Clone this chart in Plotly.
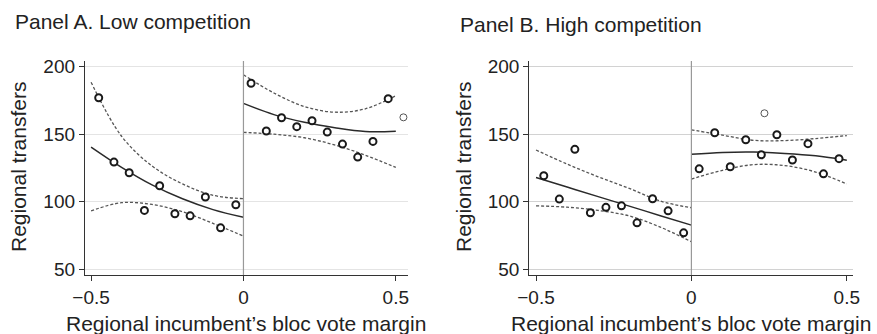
import plotly.graph_objects as go

# ---------------- data ----------------
bins_left = [-0.475, -0.425, -0.375, -0.325, -0.275, -0.225, -0.175, -0.125, -0.075, -0.025]
bins_right = [0.025, 0.075, 0.125, 0.175, 0.225, 0.275, 0.325, 0.375, 0.425, 0.475]

a_left_y = [177, 129.4, 121.5, 93.6, 111.9, 91.1, 89.6, 103.5, 80.7, 97.8]
a_right_y = [187.7, 152.4, 162.2, 155.6, 160, 151.6, 142.7, 133.1, 144.7, 176.3]
a_extra_x = [0.525]
a_extra_y = [162.5]

b_left_y = [119.3, 102, 138.8, 91.9, 95.9, 97, 84.4, 102.2, 93.3, 77]
b_right_y = [124.4, 151.1, 125.9, 145.9, 134.8, 149.6, 130.9, 143, 120.7, 131.9]
b_extra_x = [0.235]
b_extra_y = [165.5]

grid_left = [-0.5, -0.4, -0.3, -0.2, -0.1, 0.0]
grid_right = [0.0, 0.1, 0.2, 0.3, 0.4, 0.5]

a_fit_left = [140.5, 125.5, 112.5, 102.2, 94.2, 88.5]
a_hi_left = [188.5, 148.5, 126.5, 113.2, 104.8, 102.3]
a_lo_left = [93.3, 99.3, 98.0, 92.6, 84.0, 74.6]
a_fit_right = [172.8, 164.5, 158.8, 154.8, 152.0, 152.2]
a_hi_right = [194.0, 180.5, 170.5, 166.3, 168.8, 178.5]
a_lo_right = [151.4, 150.0, 147.4, 142.0, 134.5, 125.4]

b_fit_left = [118.0, 110.9, 103.8, 96.8, 89.7, 82.7]
b_hi_left = [138.3, 127.9, 118.5, 109.9, 100.5, 95.6]
b_lo_left = [97.0, 96.0, 93.6, 89.5, 81.2, 70.4]
b_fit_right = [135.1, 136.5, 136.8, 135.8, 134.0, 130.8]
b_hi_right = [153.3, 149.3, 145.5, 145.3, 146.8, 149.0]
b_lo_right = [116.8, 123.3, 127.5, 126.8, 122.0, 113.2]

x_tickvals = [-0.5, 0, 0.5]
x_ticktext = ["\u22120.5", "0", "0.5"]
y_tickvals = [50, 100, 150, 200]
y_ticktext = ["50", "100", "150", "200"]

panel_titles = ["Panel A. Low competition", "Panel B. High competition"]
x_title = "Regional incumbent\u2019s bloc vote margin"
y_title = "Regional transfers"

# ---------------- figure ----------------
W, H = 877, 334
FONT = "Liberation Sans, Arial, Helvetica, sans-serif"
fig = go.Figure()

def px_x(p):
    return p / W

def px_y(p):
    return 1 - p / H

panels = [
    dict(xa="x", ya="y", left_y=a_left_y, right_y=a_right_y, ex=a_extra_x, ey=a_extra_y,
         fl=a_fit_left, hl=a_hi_left, ll=a_lo_left, fr=a_fit_right, hr=a_hi_right, lr=a_lo_right),
    dict(xa="x2", ya="y2", left_y=b_left_y, right_y=b_right_y, ex=b_extra_x, ey=b_extra_y,
         fl=b_fit_left, hl=b_hi_left, ll=b_lo_left, fr=b_fit_right, hr=b_hi_right, lr=b_lo_right),
]

for p in panels:
    for gx, yy, dash, col in [
        (grid_left, p["hl"], "3px,2px", "#555555"),
        (grid_left, p["ll"], "3px,2px", "#555555"),
        (grid_left, p["fl"], "solid", "#2a2a2a"),
        (grid_right, p["hr"], "3px,2px", "#555555"),
        (grid_right, p["lr"], "3px,2px", "#555555"),
        (grid_right, p["fr"], "solid", "#2a2a2a"),
    ]:
        fig.add_trace(go.Scatter(
            x=gx, y=yy, mode="lines", xaxis=p["xa"], yaxis=p["ya"],
            line=dict(color=col, width=1.3 if dash != "solid" else 1.5, dash=dash, shape="spline", smoothing=1.0),
            showlegend=False, hoverinfo="skip"))
    fig.add_trace(go.Scatter(
        x=bins_left + bins_right, y=p["left_y"] + p["right_y"], mode="markers",
        xaxis=p["xa"], yaxis=p["ya"],
        marker=dict(symbol="circle", size=7, color="white", line=dict(color="#1a1a1a", width=2)),
        showlegend=False))
    fig.add_trace(go.Scatter(
        x=p["ex"], y=p["ey"], mode="markers", xaxis=p["xa"], yaxis=p["ya"],
        marker=dict(symbol="circle", size=7, color="white", line=dict(color="#555555", width=1)),
        showlegend=False))

axis_common = dict(
    showline=True, linecolor="#333333", linewidth=1.3, ticks="outside", ticklen=5,
    tickcolor="#333333", tickwidth=1.2, zeroline=False,
    tickfont=dict(family=FONT, size=19, color="#222222"), automargin=False,
)

fig.update_layout(
    width=W, height=H, margin=dict(l=0, r=0, t=0, b=0),
    paper_bgcolor="white", plot_bgcolor="white",
    xaxis=dict(domain=[px_x(85), px_x(408)], range=[-0.52, 0.54], anchor="y",
               tickvals=x_tickvals, ticktext=x_ticktext, showgrid=False, **axis_common),
    yaxis=dict(domain=[px_y(275), px_y(61)], range=[45.8, 204.2], anchor="x",
               tickvals=y_tickvals, ticktext=y_ticktext, showgrid=True, gridcolor="#e4e4e4",
               gridwidth=1.2, **axis_common),
    xaxis2=dict(domain=[px_x(529.3), px_x(852.7)], range=[-0.5216, 0.519], anchor="y2",
                tickvals=x_tickvals, ticktext=x_ticktext, showgrid=False, **axis_common),
    yaxis2=dict(domain=[px_y(275), px_y(61)], range=[45.8, 204.2], anchor="x2",
                tickvals=y_tickvals, ticktext=y_ticktext, showgrid=True, gridcolor="#d2d2d2",
                gridwidth=1.2, **axis_common),
    shapes=[
        dict(type="line", xref="x", yref="y domain", x0=0, x1=0, y0=0, y1=1,
             line=dict(color="#999999", width=1.2)),
        dict(type="line", xref="x2", yref="y2 domain", x0=0, x1=0, y0=0, y1=1,
             line=dict(color="#999999", width=1.2)),
    ],
)

ann_font = dict(family=FONT, size=21, color="#222222")
annotations = [
    dict(text=panel_titles[0], x=px_x(13), y=px_y(21), xanchor="left", yanchor="middle"),
    dict(text=panel_titles[1], x=px_x(458), y=px_y(24), xanchor="left", yanchor="middle"),
    dict(text=x_title, x=px_x(246), y=px_y(323), xanchor="center", yanchor="middle"),
    dict(text=x_title, x=px_x(691), y=px_y(323), xanchor="center", yanchor="middle"),
    dict(text=y_title, x=px_x(18), y=px_y(167), xanchor="center", yanchor="middle", textangle=-90),
    dict(text=y_title, x=px_x(463), y=px_y(167), xanchor="center", yanchor="middle", textangle=-90),
]
for a in annotations:
    a.update(xref="paper", yref="paper", showarrow=False, font=ann_font)
fig.update_layout(annotations=annotations)

fig.write_html("out.html", config={"displayModeBar": False},
               post_script="document.body.style.margin='0px';document.body.style.overflow='hidden';")
